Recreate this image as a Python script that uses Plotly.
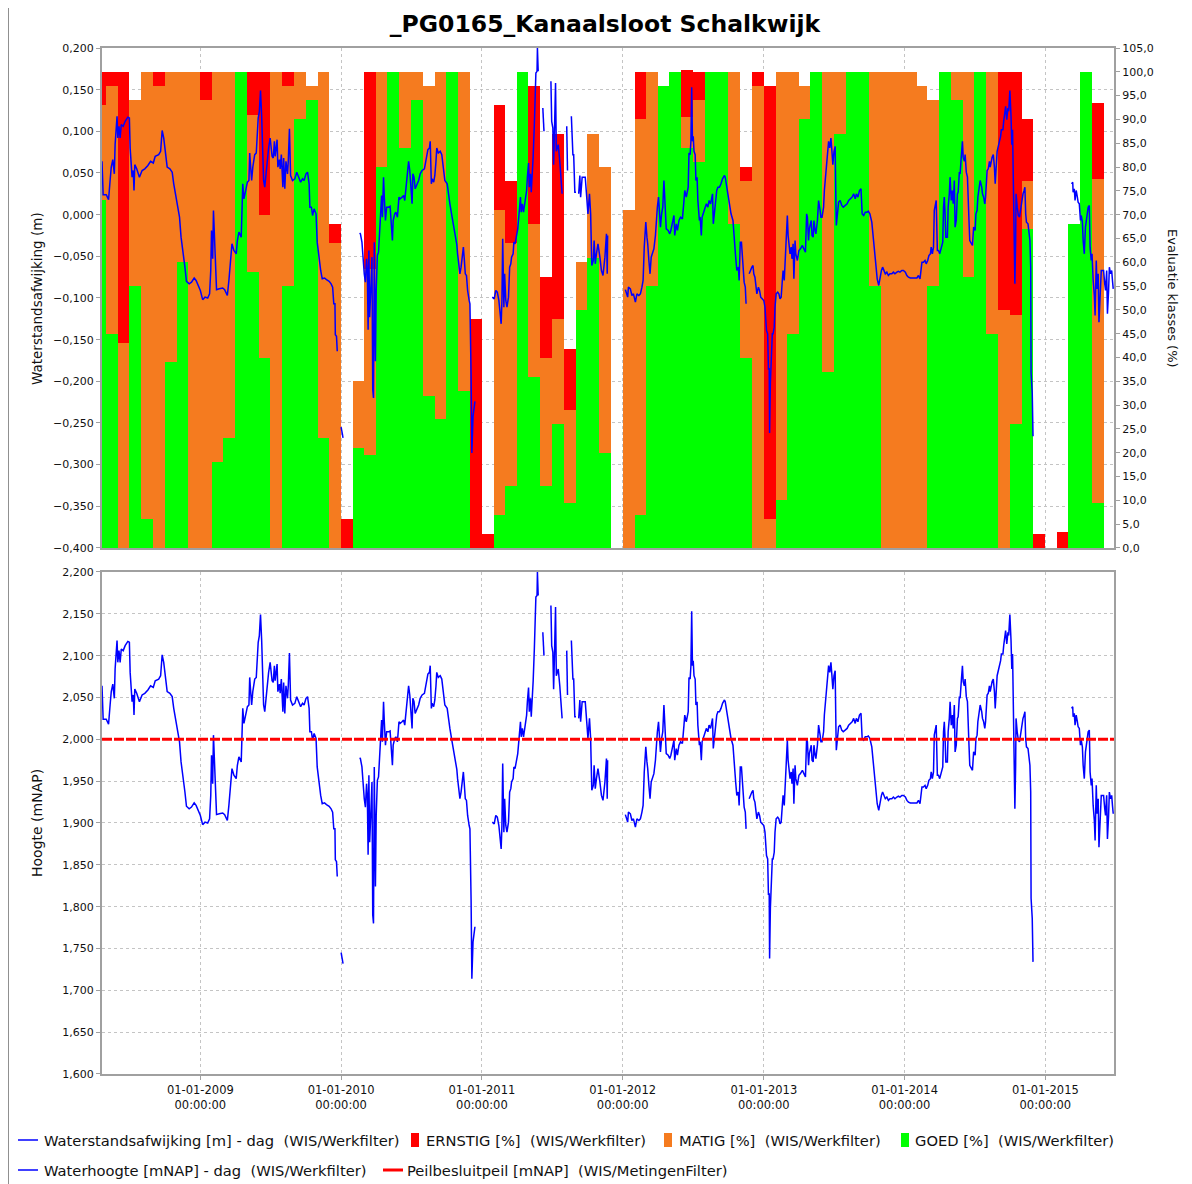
import pandas as pd
import plotly.graph_objects as go

TITLE = "_PG0165_Kanaalsloot Schalkwijk"

# ---------------- monthly evaluation classes (%) ----------------
months = [
    "2008-04", "2008-05", "2008-06", "2008-07", "2008-08", "2008-09", "2008-10", "2008-11", "2008-12",
    "2009-01", "2009-02", "2009-03", "2009-04", "2009-05", "2009-06", "2009-07", "2009-08", "2009-09", "2009-10", "2009-11", "2009-12",
    "2010-01", "2010-02", "2010-03", "2010-04", "2010-05", "2010-06", "2010-07", "2010-08", "2010-09", "2010-10", "2010-11", "2010-12",
    "2011-01", "2011-02", "2011-03", "2011-04", "2011-05", "2011-06", "2011-07", "2011-08", "2011-09", "2011-10", "2011-11", "2011-12",
    "2012-01", "2012-02", "2012-03", "2012-04", "2012-05", "2012-06", "2012-07", "2012-08", "2012-09", "2012-10", "2012-11", "2012-12",
    "2013-01", "2013-02", "2013-03", "2013-04", "2013-05", "2013-06", "2013-07", "2013-08", "2013-09", "2013-10", "2013-11", "2013-12",
    "2014-01", "2014-02", "2014-03", "2014-04", "2014-05", "2014-06", "2014-07", "2014-08", "2014-09", "2014-10", "2014-11", "2014-12",
    "2015-01", "2015-02", "2015-03", "2015-04", "2015-05",
]
goed = [
    73, 45, 0, 55, 6, 0, 39, 60, 0,
    0, 18, 23, 100, 58, 40, 0, 55, 90, 94, 23, 0,
    0, 21, 19.5, 80, 100, 84, 94, 32, 27, 100, 33, 0,
    0, 7, 13, 100, 36, 13, 26, 9.5, 50, 61, 20, 0,
    0, 7, 55, 97, 100, 84, 81, 100, 100, 68, 40, 0,
    0, 10, 45, 90, 100, 37, 87, 100, 100, 55, 0, 0,
    0, 0, 55, 100, 94, 57, 100, 45, 0, 26, 67, 0,
    0, 0, 68, 100, 9.5,
]
matig = [
    20, 52, 43, 39, 94, 97, 61, 40, 100,
    94, 82, 77, 0, 33, 30, 100, 42, 10, 3, 77, 64,
    0, 14, 39, 20, 0, 16, 6, 65, 73, 0, 67, 0,
    0, 64, 51, 0, 32, 27, 22, 19.5, 10, 26, 60, 0,
    71, 83, 45, 0, 0, 6.6, 13, 0, 0, 32, 37, 97,
    6, 90, 55, 7, 0, 63, 13, 0, 0, 45, 100, 100,
    100, 97, 39, 0, 6, 43, 0, 55, 50, 23, 10, 0,
    0, 0, 0, 0, 68,
]
ernstig = [
    7, 3, 57, 0, 0, 3, 0, 0, 0,
    6, 0, 0, 0, 9, 30, 0, 3, 0, 0, 0, 4,
    6, 0, 41.5, 0, 0, 0, 0, 0, 0, 0, 0, 48,
    3, 22, 13, 0, 29, 17, 39, 12.7, 0, 0, 0, 0,
    0, 10, 0, 0, 0, 9.8, 6, 0, 0, 0, 3, 3,
    91, 0, 0, 0, 0, 0, 0, 0, 0, 0, 0, 0,
    0, 0, 0, 0, 0, 0, 0, 0, 50, 51, 13, 3,
    0, 3.4, 0, 0, 16,
]

# ---------------- daily water level (mNAP) ----------------
level = [
    ("2008-04-21", 2.064), ("2008-04-24", 2.024), ("2008-05-02", 2.024), ("2008-05-08", 2.018), ("2008-05-12", 2.041),
    ("2008-05-15", 2.057), ("2008-05-19", 2.066), ("2008-05-23", 2.049), ("2008-05-25", 2.084), ("2008-05-30", 2.118),
    ("2008-06-01", 2.092), ("2008-06-04", 2.106), ("2008-06-07", 2.092), ("2008-06-10", 2.108), ("2008-06-15", 2.106),
    ("2008-06-20", 2.112), ("2008-06-27", 2.117), ("2008-07-01", 2.116), ("2008-07-03", 2.080), ("2008-07-06", 2.055),
    ("2008-07-08", 2.045), ("2008-07-11", 2.053), ("2008-07-13", 2.029), ("2008-07-15", 2.060), ("2008-07-20", 2.055),
    ("2008-07-27", 2.045), ("2008-08-03", 2.053), ("2008-08-10", 2.055), ("2008-08-18", 2.059), ("2008-08-25", 2.064),
    ("2008-09-01", 2.062), ("2008-09-06", 2.070), ("2008-09-15", 2.072), ("2008-09-20", 2.076), ("2008-09-24", 2.101),
    ("2008-09-28", 2.092), ("2008-10-03", 2.072), ("2008-10-07", 2.057), ("2008-10-14", 2.055), ("2008-10-20", 2.051),
    ("2008-10-24", 2.037), ("2008-10-29", 2.023), ("2008-11-04", 2.011), ("2008-11-08", 1.997), ("2008-11-12", 1.973),
    ("2008-11-17", 1.957), ("2008-11-22", 1.937), ("2008-11-26", 1.920), ("2008-12-03", 1.917), ("2008-12-09", 1.919),
    ("2008-12-16", 1.924), ("2008-12-21", 1.921), ("2008-12-26", 1.915),
    ("2009-01-01", 1.909), ("2009-01-07", 1.898), ("2009-01-13", 1.901), ("2009-01-20", 1.900), ("2009-01-25", 1.905),
    ("2009-01-28", 1.933), ("2009-01-30", 1.981), ("2009-02-02", 1.947), ("2009-02-04", 2.005), ("2009-02-07", 1.969),
    ("2009-02-10", 1.941), ("2009-02-12", 1.910), ("2009-02-19", 1.911), ("2009-02-28", 1.912), ("2009-03-05", 1.910),
    ("2009-03-12", 1.903), ("2009-03-16", 1.921), ("2009-03-21", 1.949), ("2009-03-24", 1.965), ("2009-03-29", 1.957),
    ("2009-04-04", 1.953), ("2009-04-07", 1.969), ("2009-04-11", 1.979), ("2009-04-17", 1.973), ("2009-04-19", 2.001),
    ("2009-04-21", 2.037), ("2009-04-24", 2.019), ("2009-04-28", 2.029), ("2009-05-03", 2.039), ("2009-05-07", 2.041),
    ("2009-05-09", 2.074), ("2009-05-11", 2.060), ("2009-05-14", 2.041), ("2009-05-17", 2.057), ("2009-05-22", 2.072),
    ("2009-05-26", 2.074), ("2009-05-28", 2.098), ("2009-05-31", 2.116), ("2009-06-03", 2.124), ("2009-06-06", 2.149),
    ("2009-06-09", 2.118), ("2009-06-11", 2.092), ("2009-06-14", 2.041), ("2009-06-17", 2.033), ("2009-06-20", 2.049),
    ("2009-06-23", 2.057), ("2009-06-27", 2.080), ("2009-07-01", 2.092), ("2009-07-03", 2.084), ("2009-07-06", 2.070),
    ("2009-07-09", 2.068), ("2009-07-12", 2.088), ("2009-07-14", 2.070), ("2009-07-19", 2.090), ("2009-07-21", 2.057),
    ("2009-07-25", 2.066), ("2009-07-27", 2.055), ("2009-07-30", 2.072), ("2009-08-03", 2.033), ("2009-08-05", 2.068),
    ("2009-08-08", 2.031), ("2009-08-11", 2.064), ("2009-08-15", 2.049), ("2009-08-17", 2.064), ("2009-08-20", 2.103),
    ("2009-08-23", 2.047), ("2009-08-28", 2.041), ("2009-09-03", 2.043), ("2009-09-08", 2.051), ("2009-09-13", 2.044),
    ("2009-09-18", 2.039), ("2009-09-23", 2.043), ("2009-09-27", 2.041), ("2009-10-02", 2.049), ("2009-10-06", 2.051),
    ("2009-10-10", 2.037), ("2009-10-12", 2.009), ("2009-10-16", 2.009), ("2009-10-19", 1.999), ("2009-10-23", 2.007),
    ("2009-10-28", 2.001), ("2009-10-31", 1.967), ("2009-11-04", 1.951), ("2009-11-09", 1.933), ("2009-11-13", 1.923),
    ("2009-11-19", 1.924), ("2009-11-24", 1.922), ("2009-12-01", 1.920), ("2009-12-06", 1.917), ("2009-12-10", 1.913),
    ("2009-12-13", 1.893), ("2009-12-16", 1.893), ("2009-12-17", 1.856), ("2009-12-20", 1.854), ("2009-12-22", 1.836),
    ("2009-12-27", None),
    ("2010-01-01", 1.745), ("2010-01-04", 1.738), ("2010-01-06", 1.732), ("2010-01-12", None),
    ("2010-02-18", 1.978), ("2010-02-20", 1.977), ("2010-02-24", 1.967), ("2010-02-27", 1.939), ("2010-03-02", 1.929),
    ("2010-03-05", 1.919), ("2010-03-08", 1.947), ("2010-03-10", 1.933), ("2010-03-12", 1.862), ("2010-03-14", 1.957),
    ("2010-03-16", 1.877), ("2010-03-19", 1.911), ("2010-03-22", 1.949), ("2010-03-24", 1.790), ("2010-03-26", 1.780),
    ("2010-03-28", 1.967), ("2010-03-31", 1.824), ("2010-04-02", 1.909), ("2010-04-05", 1.951), ("2010-04-08", 1.955),
    ("2010-04-11", 1.981), ("2010-04-13", 2.013), ("2010-04-16", 2.023), ("2010-04-18", 1.997), ("2010-04-21", 2.045),
    ("2010-04-23", 2.021), ("2010-04-26", 1.993), ("2010-04-29", 2.009), ("2010-05-04", 2.009), ("2010-05-08", 2.010),
    ("2010-05-11", 1.981), ("2010-05-14", 1.969), ("2010-05-16", 1.993), ("2010-05-20", 2.001), ("2010-05-23", 2.003),
    ("2010-05-27", 1.997), ("2010-05-31", 2.021), ("2010-06-03", 2.019), ("2010-06-08", 2.021), ("2010-06-12", 2.023),
    ("2010-06-15", 2.017), ("2010-06-18", 2.033), ("2010-06-21", 2.045), ("2010-06-25", 2.064), ("2010-06-28", 2.053),
    ("2010-07-01", 2.037), ("2010-07-04", 2.013), ("2010-07-06", 2.049), ("2010-07-09", 2.045), ("2010-07-12", 2.031),
    ("2010-07-17", 2.037), ("2010-07-21", 2.041), ("2010-07-25", 2.049), ("2010-07-30", 2.053), ("2010-08-05", 2.055),
    ("2010-08-14", 2.078), ("2010-08-18", 2.080), ("2010-08-20", 2.088), ("2010-08-23", 2.037), ("2010-08-25", 2.043),
    ("2010-08-29", 2.039), ("2010-09-01", 2.047), ("2010-09-04", 2.064), ("2010-09-06", 2.080), ("2010-09-10", 2.074),
    ("2010-09-15", 2.076), ("2010-09-19", 2.072), ("2010-09-23", 2.057), ("2010-09-27", 2.041), ("2010-10-03", 2.037),
    ("2010-10-06", 2.025), ("2010-10-10", 2.013), ("2010-10-15", 1.999), ("2010-10-19", 1.989), ("2010-10-23", 1.975),
    ("2010-10-28", 1.964), ("2010-10-30", 1.953), ("2010-11-02", 1.937), ("2010-11-05", 1.929), ("2010-11-08", 1.937),
    ("2010-11-10", 1.945), ("2010-11-14", 1.961), ("2010-11-16", 1.949), ("2010-11-19", 1.929), ("2010-11-22", 1.927),
    ("2010-11-25", 1.909), ("2010-11-29", 1.897), ("2010-12-01", 1.893), ("2010-12-04", 1.808), ("2010-12-06", 1.714),
    ("2010-12-09", 1.758), ("2010-12-11", 1.766), ("2010-12-14", 1.776), ("2010-12-20", None),
    ("2011-01-28", 1.901), ("2011-02-02", 1.899), ("2011-02-06", 1.909), ("2011-02-10", 1.907), ("2011-02-14", 1.897),
    ("2011-02-17", 1.881), ("2011-02-20", 1.869), ("2011-02-22", 1.897), ("2011-02-24", 1.971), ("2011-02-27", 1.889),
    ("2011-03-01", 1.929), ("2011-03-04", 1.897), ("2011-03-07", 1.889), ("2011-03-11", 1.901), ("2011-03-14", 1.937),
    ("2011-03-17", 1.941), ("2011-03-19", 1.949), ("2011-03-23", 1.953), ("2011-03-25", 1.967), ("2011-03-28", 1.965),
    ("2011-04-01", 1.977), ("2011-04-04", 1.983), ("2011-04-07", 1.999), ("2011-04-11", 2.021), ("2011-04-13", 2.003),
    ("2011-04-16", 2.013), ("2011-04-19", 2.003), ("2011-04-23", 2.017), ("2011-04-27", 2.029), ("2011-04-29", 2.045),
    ("2011-05-02", 2.062), ("2011-05-04", 2.033), ("2011-05-07", 2.049), ("2011-05-09", 2.027), ("2011-05-12", 2.069),
    ("2011-05-14", 2.070), ("2011-05-17", 2.108), ("2011-05-19", 2.144), ("2011-05-21", 2.170), ("2011-05-24", 2.172),
    ("2011-05-25", 2.200), ("2011-05-27", 2.172), ("2011-06-01", None),
    ("2011-06-08", 2.128), ("2011-06-11", 2.100), ("2011-06-20", None),
    ("2011-06-29", 2.160), ("2011-07-01", 2.112), ("2011-07-04", 2.104), ("2011-07-06", 2.060), ("2011-07-08", 2.096),
    ("2011-07-11", 2.158), ("2011-07-13", 2.076), ("2011-07-18", 2.084), ("2011-07-22", 2.064), ("2011-07-25", 2.037),
    ("2011-07-28", 2.025), ("2011-08-02", None),
    ("2011-08-09", 2.106), ("2011-08-11", 2.053), ("2011-08-16", None),
    ("2011-08-21", 2.118), ("2011-08-25", 2.072), ("2011-08-27", 2.072), ("2011-08-30", 2.027), ("2011-09-02", 2.027),
    ("2011-09-06", None),
    ("2011-09-09", 2.025), ("2011-09-12", 2.047), ("2011-09-14", 2.021), ("2011-09-18", 2.045), ("2011-09-26", 2.045),
    ("2011-09-29", 2.025), ("2011-10-03", 2.001), ("2011-10-07", 2.025), ("2011-10-10", 2.001), ("2011-10-13", 1.939),
    ("2011-10-17", 1.945), ("2011-10-19", 1.969), ("2011-10-22", 1.941), ("2011-10-25", 1.953), ("2011-10-29", 1.965),
    ("2011-11-03", 1.949), ("2011-11-07", 1.933), ("2011-11-11", 1.927), ("2011-11-16", 1.949), ("2011-11-20", 1.977),
    ("2011-11-22", 1.929), ("2011-11-23", 1.975), ("2011-12-01", None),
    ("2012-01-08", 1.910), ("2012-01-11", 1.905), ("2012-01-14", 1.901), ("2012-01-16", 1.913), ("2012-01-21", 1.911),
    ("2012-01-25", 1.903), ("2012-01-29", 1.905), ("2012-02-03", 1.895), ("2012-02-07", 1.905), ("2012-02-12", 1.903),
    ("2012-02-16", 1.905), ("2012-02-20", 1.913), ("2012-02-23", 1.921), ("2012-02-26", 1.961), ("2012-03-01", 1.991),
    ("2012-03-04", 1.973), ("2012-03-06", 1.965), ("2012-03-09", 1.945), ("2012-03-12", 1.929), ("2012-03-15", 1.949),
    ("2012-03-17", 1.953), ("2012-03-22", 1.959), ("2012-03-26", 1.975), ("2012-03-29", 2.001), ("2012-03-31", 2.009),
    ("2012-04-03", 2.021), ("2012-04-06", 2.001), ("2012-04-08", 1.985), ("2012-04-11", 2.001), ("2012-04-14", 2.009),
    ("2012-04-17", 2.041), ("2012-04-20", 2.005), ("2012-04-23", 1.983), ("2012-04-28", 1.981), ("2012-05-02", 1.977),
    ("2012-05-05", 1.981), ("2012-05-09", 1.989), ("2012-05-13", 1.999), ("2012-05-15", 1.975), ("2012-05-19", 1.989),
    ("2012-05-22", 1.981), ("2012-05-26", 1.993), ("2012-05-30", 1.997), ("2012-06-04", 1.995), ("2012-06-08", 2.017),
    ("2012-06-10", 2.029), ("2012-06-14", 2.021), ("2012-06-17", 2.029), ("2012-06-19", 2.033), ("2012-06-21", 2.074),
    ("2012-06-24", 2.072), ("2012-06-26", 2.088), ("2012-06-28", 2.153), ("2012-06-30", 2.088), ("2012-07-02", 2.094),
    ("2012-07-04", 2.076), ("2012-07-07", 2.072), ("2012-07-09", 2.041), ("2012-07-12", 2.045), ("2012-07-14", 2.017),
    ("2012-07-18", 1.993), ("2012-07-20", 1.997), ("2012-07-23", 1.975), ("2012-07-25", 1.997), ("2012-07-29", 2.003),
    ("2012-08-02", 2.007), ("2012-08-05", 2.013), ("2012-08-09", 2.009), ("2012-08-12", 2.017), ("2012-08-16", 2.013),
    ("2012-08-21", 2.025), ("2012-08-23", 1.989), ("2012-08-27", 2.007), ("2012-09-01", 2.029), ("2012-09-04", 2.033),
    ("2012-09-08", 2.033), ("2012-09-12", 2.037), ("2012-09-16", 2.043), ("2012-09-21", 2.047), ("2012-09-23", 2.045),
    ("2012-09-27", 2.033), ("2012-10-01", 2.021), ("2012-10-04", 2.013), ("2012-10-08", 2.001), ("2012-10-13", 1.993),
    ("2012-10-17", 1.973), ("2012-10-20", 1.949), ("2012-10-23", 1.933), ("2012-10-27", 1.937), ("2012-10-29", 1.921),
    ("2012-11-01", 1.967), ("2012-11-04", 1.967), ("2012-11-06", 1.949), ("2012-11-09", 1.937), ("2012-11-11", 1.919),
    ("2012-11-14", 1.913), ("2012-11-16", 1.893), ("2012-11-20", None),
    ("2012-11-24", 1.929), ("2012-11-27", 1.933), ("2012-12-01", 1.937), ("2012-12-04", 1.939), ("2012-12-06", 1.929),
    ("2012-12-09", 1.925), ("2012-12-12", 1.915), ("2012-12-14", 1.905), ("2012-12-18", 1.913), ("2012-12-21", 1.909),
    ("2012-12-24", 1.901), ("2012-12-28", 1.899),
    ("2013-01-01", 1.897), ("2013-01-04", 1.889), ("2013-01-08", 1.861), ("2013-01-11", 1.857), ("2013-01-13", 1.814),
    ("2013-01-15", 1.816), ("2013-01-16", 1.738), ("2013-01-18", 1.798), ("2013-01-21", 1.854), ("2013-01-23", 1.857),
    ("2013-01-25", 1.857), ("2013-01-28", 1.865), ("2013-01-30", 1.889), ("2013-02-02", 1.905), ("2013-02-06", 1.907),
    ("2013-02-09", 1.905), ("2013-02-12", 1.899), ("2013-02-15", 1.901), ("2013-02-18", 1.921), ("2013-02-20", 1.933),
    ("2013-02-23", 1.921), ("2013-02-25", 1.941), ("2013-02-28", 1.965), ("2013-03-03", 1.999), ("2013-03-05", 1.975),
    ("2013-03-08", 1.961), ("2013-03-10", 1.953), ("2013-03-13", 1.961), ("2013-03-15", 1.947), ("2013-03-18", 1.965),
    ("2013-03-20", 1.923), ("2013-03-23", 1.969), ("2013-03-25", 1.953), ("2013-03-29", 1.945), ("2013-04-02", 1.957),
    ("2013-04-06", 1.959), ("2013-04-11", 1.963), ("2013-04-15", 1.959), ("2013-04-19", 1.955), ("2013-04-22", 2.001),
    ("2013-04-24", 1.997), ("2013-04-27", 1.969), ("2013-04-29", 1.983), ("2013-05-04", 1.993), ("2013-05-06", 1.975),
    ("2013-05-09", 1.973), ("2013-05-11", 1.993), ("2013-05-14", 1.981), ("2013-05-16", 1.977), ("2013-05-20", 1.993),
    ("2013-05-23", 2.017), ("2013-05-27", 2.005), ("2013-05-29", 1.997), ("2013-06-01", 1.997), ("2013-06-05", 2.009),
    ("2013-06-07", 2.029), ("2013-06-11", 2.049), ("2013-06-13", 2.064), ("2013-06-16", 2.076), ("2013-06-18", 2.088),
    ("2013-06-21", 2.080), ("2013-06-24", 2.092), ("2013-06-26", 2.080), ("2013-06-29", 2.060), ("2013-07-02", 2.076),
    ("2013-07-05", 2.082), ("2013-07-07", 2.013), ("2013-07-08", 1.987), ("2013-07-11", 2.001), ("2013-07-14", 2.015),
    ("2013-07-18", 2.017), ("2013-07-22", 2.011), ("2013-07-26", 2.009), ("2013-08-01", 2.011), ("2013-08-05", 2.013),
    ("2013-08-09", 2.017), ("2013-08-14", 2.019), ("2013-08-18", 2.021), ("2013-08-22", 2.025), ("2013-08-26", 2.019),
    ("2013-08-29", 2.025), ("2013-09-02", 2.021), ("2013-09-06", 2.029), ("2013-09-10", 2.031), ("2013-09-13", 2.001),
    ("2013-09-17", 1.999), ("2013-09-21", 2.003), ("2013-09-25", 2.003), ("2013-09-29", 2.004), ("2013-10-03", 2.001),
    ("2013-10-08", 1.991), ("2013-10-12", 1.971), ("2013-10-15", 1.953), ("2013-10-19", 1.933), ("2013-10-22", 1.923),
    ("2013-10-26", 1.915), ("2013-10-29", 1.925), ("2013-11-02", 1.933), ("2013-11-05", 1.937), ("2013-11-09", 1.933),
    ("2013-11-12", 1.929), ("2013-11-16", 1.931), ("2013-11-20", 1.927), ("2013-11-24", 1.929), ("2013-11-29", 1.929),
    ("2013-12-03", 1.931), ("2013-12-07", 1.929), ("2013-12-12", 1.931), ("2013-12-16", 1.932), ("2013-12-20", 1.931),
    ("2013-12-25", 1.933), ("2013-12-29", 1.933),
    ("2014-01-03", 1.931), ("2014-01-07", 1.927), ("2014-01-11", 1.925), ("2014-01-16", 1.924), ("2014-01-24", 1.924),
    ("2014-02-02", 1.924), ("2014-02-06", 1.927), ("2014-02-10", 1.923), ("2014-02-15", 1.943), ("2014-02-19", 1.943),
    ("2014-02-23", 1.945), ("2014-02-26", 1.941), ("2014-03-02", 1.945), ("2014-03-05", 1.951), ("2014-03-09", 1.953),
    ("2014-03-11", 1.961), ("2014-03-14", 1.953), ("2014-03-17", 1.961), ("2014-03-19", 2.005), ("2014-03-22", 2.013),
    ("2014-03-24", 2.017), ("2014-03-27", 1.957), ("2014-03-30", 1.957), ("2014-04-02", 1.953), ("2014-04-04", 1.957),
    ("2014-04-07", 1.965), ("2014-04-10", 1.967), ("2014-04-12", 2.009), ("2014-04-14", 2.021), ("2014-04-16", 2.001),
    ("2014-04-18", 1.973), ("2014-04-22", 1.973), ("2014-04-24", 2.009), ("2014-04-27", 2.025), ("2014-04-29", 2.045),
    ("2014-05-02", 2.017), ("2014-05-05", 2.029), ("2014-05-07", 2.013), ("2014-05-10", 2.041), ("2014-05-12", 1.985),
    ("2014-05-15", 1.993), ("2014-05-18", 2.025), ("2014-05-20", 2.027), ("2014-05-23", 2.051), ("2014-05-25", 2.049),
    ("2014-05-28", 2.069), ("2014-05-31", 2.088), ("2014-06-02", 2.069), ("2014-06-05", 2.064), ("2014-06-07", 2.072),
    ("2014-06-10", 2.051), ("2014-06-13", 2.045), ("2014-06-14", 2.021), ("2014-06-17", 1.993), ("2014-06-19", 1.969),
    ("2014-06-23", 1.965), ("2014-06-26", 1.963), ("2014-06-29", 1.985), ("2014-07-03", 1.981), ("2014-07-05", 2.001),
    ("2014-07-08", 2.005), ("2014-07-10", 2.021), ("2014-07-13", 2.033), ("2014-07-16", 2.041), ("2014-07-20", 2.033),
    ("2014-07-22", 2.025), ("2014-07-25", 2.021), ("2014-07-28", 2.013), ("2014-07-30", 2.021), ("2014-08-03", 2.053),
    ("2014-08-06", 2.055), ("2014-08-09", 2.064), ("2014-08-11", 2.057), ("2014-08-14", 2.066), ("2014-08-16", 2.069),
    ("2014-08-19", 2.072), ("2014-08-22", 2.057), ("2014-08-24", 2.037), ("2014-08-27", 2.064), ("2014-08-29", 2.076),
    ("2014-09-02", 2.084), ("2014-09-04", 2.088), ("2014-09-07", 2.094), ("2014-09-09", 2.102), ("2014-09-13", 2.102),
    ("2014-09-15", 2.112), ("2014-09-18", 2.120), ("2014-09-20", 2.130), ("2014-09-23", 2.114), ("2014-09-26", 2.128),
    ("2014-09-28", 2.124), ("2014-10-01", 2.149), ("2014-10-04", 2.118), ("2014-10-06", 2.084), ("2014-10-08", 2.102),
    ("2014-10-10", 2.013), ("2014-10-12", 2.009), ("2014-10-14", 1.917), ("2014-10-16", 1.969), ("2014-10-17", 2.025),
    ("2014-10-20", 2.009), ("2014-10-23", 1.999), ("2014-10-26", 1.997), ("2014-11-01", 2.019), ("2014-11-04", 2.025),
    ("2014-11-07", 2.029), ("2014-11-09", 2.033), ("2014-11-11", 2.001), ("2014-11-13", 1.991), ("2014-11-17", 1.989),
    ("2014-11-19", 1.977), ("2014-11-22", 1.969), ("2014-11-24", 1.937), ("2014-11-25", 1.810), ("2014-11-28", 1.786),
    ("2014-11-30", 1.734), ("2014-12-05", None),
    ("2015-03-10", 2.037), ("2015-03-13", 2.039), ("2015-03-14", 2.027), ("2015-03-17", 2.031), ("2015-03-19", 2.017),
    ("2015-03-22", 2.029), ("2015-03-25", 2.021), ("2015-03-27", 2.015), ("2015-03-30", 2.013), ("2015-04-02", 1.993),
    ("2015-04-04", 1.999), ("2015-04-07", 1.991), ("2015-04-09", 1.969), ("2015-04-12", 1.953), ("2015-04-15", 1.985),
    ("2015-04-17", 1.993), ("2015-04-20", 2.003), ("2015-04-22", 2.009), ("2015-04-25", 2.011), ("2015-04-27", 1.961),
    ("2015-04-30", 1.945), ("2015-05-02", 1.953), ("2015-05-05", 1.921), ("2015-05-08", 1.903), ("2015-05-10", 1.879),
    ("2015-05-13", 1.945), ("2015-05-15", 1.911), ("2015-05-18", 1.929), ("2015-05-20", 1.871), ("2015-05-23", 1.907),
    ("2015-05-26", 1.933), ("2015-05-28", 1.933), ("2015-06-01", 1.933), ("2015-06-04", 1.917), ("2015-06-06", 1.909),
    ("2015-06-09", 1.933), ("2015-06-11", 1.881), ("2015-06-14", 1.909), ("2015-06-16", 1.937), ("2015-06-19", 1.929),
    ("2015-06-22", 1.933), ("2015-06-24", 1.921), ("2015-06-26", 1.911),
]
level_dates = [d for d, _ in level]
level_values = [v for _, v in level]

peil_value = 2.0
peil_dates = ["2008-04-21", "2015-06-28"]
peil_values = [peil_value, peil_value]

x_range = ["2008-04-21", "2015-06-28"]
tick_years = [2009, 2010, 2011, 2012, 2013, 2014, 2015]

NAME_DEV = "Waterstandsafwijking [m] - dag \u00a0(WIS/Werkfilter)"
NAME_ERN = "ERNSTIG [%] \u00a0(WIS/Werkfilter)"
NAME_MAT = "MATIG [%] \u00a0(WIS/Werkfilter)"
NAME_GOED = "GOED [%] \u00a0(WIS/Werkfilter)"
NAME_LEVEL = "Waterhoogte [mNAP] - dag \u00a0(WIS/Werkfilter)"
NAME_PEIL = "Peilbesluitpeil [mNAP] \u00a0(WIS/MetingenFilter)"

# ---------------- derived ----------------
deviation = [None if v is None else round(v - peil_value, 4) for v in level_values]
bar_x = [m + "-01" for m in months]
bar_w = [pd.Period(m, freq="M").days_in_month * 86400000 for m in months]
tick_vals = [f"{y}-01-01" for y in tick_years]
tick_text = [f"01-01-{y}<br>00:00:00" for y in tick_years]

FONT = "DejaVu Sans"
GRID = "#c4c4c4"
AXLINE = "#a0a0a0"
BLUE = "#0000ff"
RED = "#ff0000"
ORANGE = "#f57b1f"
GREEN = "#00ff00"
TXT = "#111111"

fig = go.Figure()
for name, vals, col in [(NAME_GOED, goed, GREEN), (NAME_MAT, matig, ORANGE), (NAME_ERN, ernstig, RED)]:
    fig.add_trace(go.Bar(
        x=bar_x, y=vals, width=bar_w, offset=0, name=name,
        marker=dict(color=col, line=dict(width=0)),
        xaxis="x", yaxis="y", showlegend=False,
    ))

fig.add_trace(go.Scatter(
    x=level_dates, y=deviation, mode="lines", name=NAME_DEV,
    line=dict(color=BLUE, width=1.5), xaxis="x", yaxis="y2", connectgaps=False, showlegend=False,
))
fig.add_trace(go.Scatter(
    x=level_dates, y=level_values, mode="lines", name=NAME_LEVEL,
    line=dict(color=BLUE, width=1.5), xaxis="x2", yaxis="y3", connectgaps=False, showlegend=False,
))
fig.add_trace(go.Scatter(
    x=peil_dates, y=peil_values, mode="lines", name=NAME_PEIL,
    line=dict(color=RED, width=3, dash="10px,2px"), xaxis="x2", yaxis="y3", showlegend=False,
))

tickfont = dict(family=FONT, size=11, color=TXT)
common_x = dict(
    type="date", range=x_range, tickmode="array", tickvals=tick_vals,
    showgrid=True, gridcolor=GRID, griddash="3px,3px", gridwidth=1,
    showline=True, linecolor=AXLINE, linewidth=2, mirror=True, zeroline=False,
)
top_dom = [0.5127, 1.0]
bot_dom = [0.0, 0.4893]

# page body has an 8px margin, so the figure is 8px smaller than the window
W, H = 1184, 1176

fig.update_layout(
    width=W, height=H, autosize=False,
    margin=dict(l=94, r=78, t=40, b=110, autoexpand=False),
    paper_bgcolor="white", plot_bgcolor="white",
    separators=",.",
    barmode="stack", bargap=0,
    showlegend=False,
    font=dict(family=FONT, size=11, color=TXT),
    title=dict(text="<b>" + TITLE + "</b>", x=(605 - 8) / W, xref="container", xanchor="center",
               y=1 - (24 - 8) / H, yref="container", yanchor="middle",
               font=dict(family=FONT, size=23.5, color="#000000")),
    xaxis=dict(**common_x, domain=[0, 1], anchor="y", showticklabels=False, ticks=""),
    yaxis=dict(domain=top_dom, anchor="x", side="right", range=[0, 105], dtick=5, tick0=0,
               tickformat=".1f", showgrid=False, zeroline=False, showline=True, linecolor=AXLINE,
               linewidth=2, ticks="outside", ticklen=4, tickcolor=AXLINE, tickfont=tickfont),
    yaxis2=dict(overlaying="y", anchor="x", side="left", range=[-0.4, 0.2], dtick=0.05, tick0=0,
                tickformat=".3f", showgrid=True, gridcolor=GRID, griddash="3px,3px", zeroline=False,
                showline=True, linecolor=AXLINE, linewidth=2, ticks="outside", ticklen=4,
                tickcolor=AXLINE, tickfont=tickfont),
    xaxis2=dict(**common_x, domain=[0, 1], anchor="y3", ticktext=tick_text, ticks="outside",
                ticklen=4, tickcolor=AXLINE, tickfont=dict(family=FONT, size=11.5, color=TXT)),
    yaxis3=dict(domain=bot_dom, anchor="x2", range=[1.6, 2.2], dtick=0.05, tick0=1.6,
                tickformat=".3f", showgrid=True, gridcolor=GRID, griddash="3px,3px", zeroline=False,
                showline=True, linecolor=AXLINE, linewidth=2, mirror=True, ticks="outside",
                ticklen=4, tickcolor=AXLINE, tickfont=tickfont),
)

# reference-pixel -> paper coordinates
def px_x(p):
    return (p - 102) / 1012

def px_y(p):
    return (1074 - p) / 1026

for text, xp, yp, ang, size in [
    ("Waterstandsafwijking (m)", 37, 299, -90, 13.5),
    ("Hoogte (mNAP)", 37, 823, -90, 14),
    ("Evaluatie klasses (%)", 1173, 298, 90, 13),
]:
    fig.add_annotation(text=text, x=px_x(xp), y=px_y(yp), xref="paper", yref="paper",
                       xanchor="center", yanchor="middle", textangle=ang, showarrow=False,
                       font=dict(family=FONT, size=size, color=TXT))

# ---------------- legend (two rows, drawn in place) ----------------
leg_font = dict(family=FONT, size=14.7, color=TXT)
legend_items = [
    # (kind, colour, symbol x0, symbol x1, text x, row y, label)
    ("line", BLUE, 18, 38, 42, 1140, NAME_DEV),
    ("box", RED, 411, 419, 424, 1140, NAME_ERN),
    ("box", ORANGE, 664, 672, 677, 1140, NAME_MAT),
    ("box", GREEN, 901, 909, 913, 1140, NAME_GOED),
    ("line", BLUE, 18, 38, 42, 1170, NAME_LEVEL),
    ("thick", RED, 383, 403, 405, 1170, NAME_PEIL),
]
for kind, col, s0, s1, tx, ty, label in legend_items:
    if kind == "box":
        fig.add_shape(type="rect", xref="paper", yref="paper", x0=px_x(s0), x1=px_x(s1),
                      y0=px_y(ty + 7), y1=px_y(ty - 7), fillcolor=col, line=dict(width=0))
    else:
        fig.add_shape(type="line", xref="paper", yref="paper", x0=px_x(s0), x1=px_x(s1),
                      y0=px_y(ty), y1=px_y(ty), line=dict(color=col, width=3 if kind == "thick" else 1.5))
    fig.add_annotation(text=label, x=px_x(tx), y=px_y(ty), xref="paper", yref="paper",
                       xanchor="left", yanchor="middle", showarrow=False, font=leg_font)

# outer frame of the chart window
fig.add_shape(type="line", xref="paper", yref="paper", x0=px_x(8), x1=px_x(1192), y0=px_y(5), y1=px_y(5),
              line=dict(color="#909090", width=2))
fig.add_shape(type="line", xref="paper", yref="paper", x0=px_x(8), x1=px_x(8), y0=px_y(5), y1=px_y(1184),
              line=dict(color="#909090", width=2))

fig.write_html("out.html")
